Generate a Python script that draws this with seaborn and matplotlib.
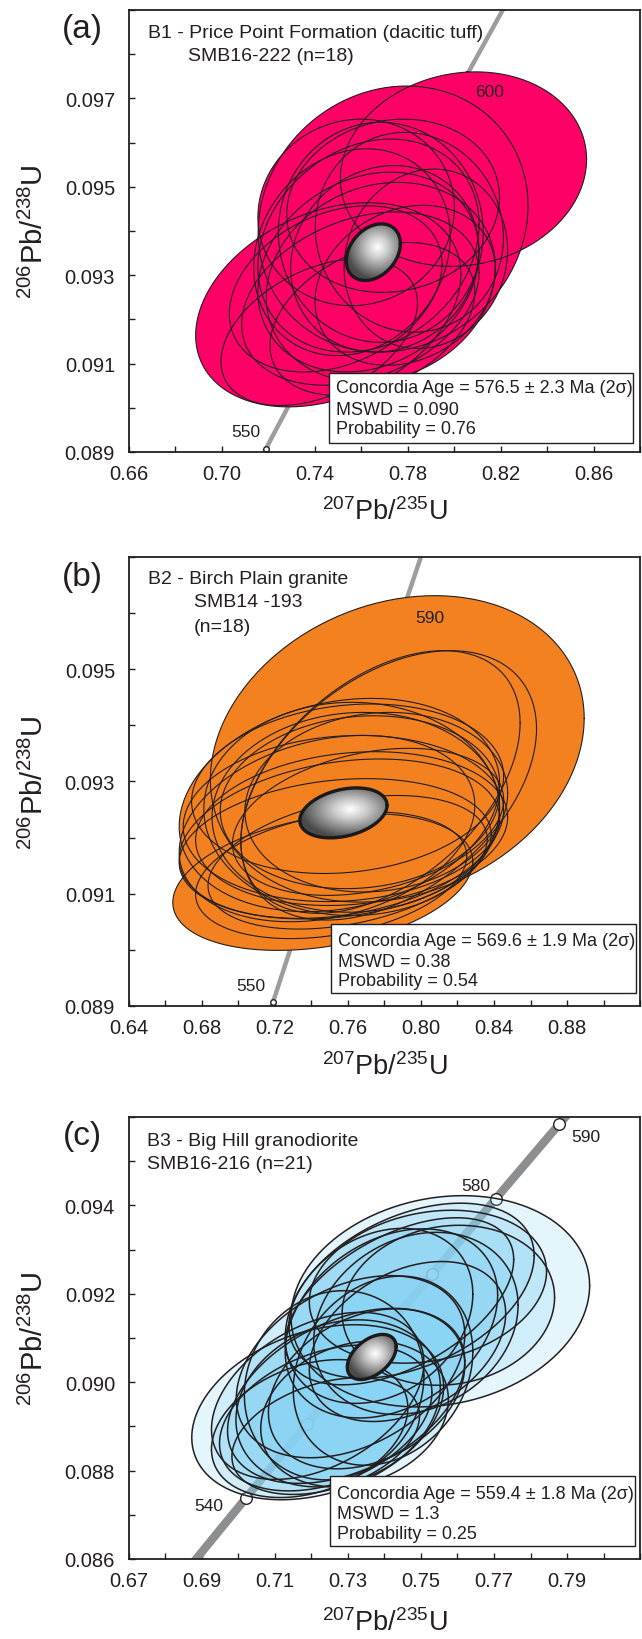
import numpy as np
import matplotlib
matplotlib.use("Agg")
import matplotlib.pyplot as plt
import seaborn as sns
from matplotlib.patches import Polygon, Rectangle
from matplotlib.colors import LinearSegmentedColormap
from matplotlib.ticker import MultipleLocator, FormatStrFormatter

# ---- data: error ellipses (centre, 2-sigma half widths, error correlation) ----
# B1 - Price Point Formation
b1_x = [0.7737, 0.8040, 0.7458, 0.7631, 0.7684, 0.7596, 0.7701, 0.7560, 0.7807,
        0.7648, 0.7737, 0.7490, 0.7878, 0.7631, 0.7419, 0.7789, 0.7578, 0.7684]
b1_y = [0.09427, 0.09540, 0.09233, 0.09307, 0.09397, 0.09247, 0.09337, 0.09352, 0.09397,
        0.09201, 0.09457, 0.09269, 0.09337, 0.09367, 0.09171, 0.09277, 0.09442, 0.09284]
b1_ex = [0.0581, 0.0530, 0.0571, 0.0476, 0.0441, 0.0511, 0.0405, 0.0423, 0.0405,
         0.0441, 0.0458, 0.0458, 0.0352, 0.0476, 0.0423, 0.0388, 0.0423, 0.0493]
b1_ey = [0.00301, 0.00220, 0.00231, 0.00226, 0.00249, 0.00196, 0.00211, 0.00234, 0.00226,
         0.00173, 0.00196, 0.00188, 0.00203, 0.00241, 0.00166, 0.00181, 0.00211, 0.00226]
b1_rho = [0.10, 0.10, 0.30, 0.20, 0.00, 0.30, 0.10, 0.15, -0.05,
          0.35, 0.10, 0.30, 0.10, 0.20, 0.40, 0.20, 0.05, 0.15]
b1_conc = [0.7652, 0.09352, 0.01163, 0.00064, 0.30]

# B2 - Birch Plain granite
b2_x = [0.7870, 0.7462, 0.7553, 0.7598, 0.7823, 0.7778, 0.7575, 0.7620, 0.7553,
        0.7643, 0.7530, 0.7665, 0.7485, 0.7710, 0.7598, 0.7620, 0.7755, 0.7508]
b2_y = [0.09358, 0.09121, 0.09258, 0.09287, 0.09293, 0.09299, 0.09234, 0.09216, 0.09198,
        0.09245, 0.09180, 0.09263, 0.09216, 0.09228, 0.09156, 0.09251, 0.09263, 0.09133]
b2_ex = [0.1024, 0.0822, 0.0878, 0.0855, 0.0810, 0.0765, 0.0878, 0.0855, 0.0878,
         0.0788, 0.0855, 0.0765, 0.0810, 0.0743, 0.0765, 0.0810, 0.0720, 0.0743]
b2_ey = [0.00273, 0.00122, 0.00190, 0.00151, 0.00240, 0.00234, 0.00148, 0.00137, 0.00142,
         0.00178, 0.00125, 0.00154, 0.00166, 0.00131, 0.00119, 0.00190, 0.00160, 0.00113]
b2_rho = [0.20, 0.30, 0.20, 0.15, 0.42, 0.45, 0.10, 0.15, 0.25,
          0.05, 0.20, 0.10, 0.25, 0.30, 0.35, 0.00, 0.10, 0.30]
b2_conc = [0.7575, 0.09244, 0.0239, 0.000445, 0.30]

# B3 - Big Hill granodiorite
b3_x = [0.7553, 0.7474, 0.7441, 0.7519, 0.7419, 0.7486, 0.7385, 0.7463, 0.7575, 0.7217, 0.7239,
        0.7273, 0.7195, 0.7295, 0.7262, 0.7318, 0.7217, 0.7351, 0.7239, 0.7307, 0.7396]
b3_y = [0.09183, 0.09207, 0.09183, 0.09216, 0.09133, 0.09133, 0.09150, 0.09092, 0.09174, 0.08932, 0.08919,
        0.08952, 0.08895, 0.08969, 0.08993, 0.08928, 0.08969, 0.08985, 0.08878, 0.09035, 0.09026]
b3_ex = [0.0409, 0.0336, 0.0313, 0.0325, 0.0291, 0.0280, 0.0257, 0.0269, 0.0291, 0.0345, 0.0291,
         0.0280, 0.0269, 0.0325, 0.0246, 0.0257, 0.0291, 0.0269, 0.0257, 0.0313, 0.0246]
b3_ey = [0.00239, 0.00198, 0.00189, 0.00173, 0.00214, 0.00206, 0.00198, 0.00181, 0.00181, 0.00198, 0.00165,
         0.00189, 0.00156, 0.00198, 0.00214, 0.00165, 0.00189, 0.00181, 0.00132, 0.00206, 0.00214]
b3_rho = [0.15, 0.40, 0.50, 0.20, 0.30, 0.20, 0.25, 0.35, 0.10, 0.29, 0.35,
          0.20, 0.30, 0.40, 0.10, 0.20, 0.40, 0.30, 0.35, 0.35, 0.20]
b3_conc = [0.7365, 0.09057, 0.0067, 0.00051, 0.45]

# concordia ages (Ma) marked on the curve, and which ones are labelled
ages_a = [550, 560, 570, 580, 590, 600]
labels_a = {550: (-14, 13), 600: (16, -12)}
ages_b = [550, 560, 570, 580, 590]
labels_b = {550: (-16, 12), 590: (22, 3)}
ages_c = [540, 550, 560, 570, 580, 590]
labels_c = {540: (-27, -5), 580: (-14, 10), 590: (19, -9)}

L238 = 1.55125e-10
L235 = 9.8485e-10

sns.set_theme(style="white")
plt.rcParams['font.family'] = ['Liberation Sans', 'DejaVu Sans']
plt.rcParams['mathtext.default'] = 'regular'


def concordia(t_ma):
    t = np.asarray(t_ma, dtype=float) * 1e6
    return np.exp(L235 * t) - 1, np.exp(L238 * t) - 1


def ellipse_xy(cx, cy, ex, ey, rho, n=240):
    t = np.linspace(0, 2 * np.pi, n)
    x = cx + ex * np.cos(t)
    y = cy + ey * (rho * np.cos(t) + np.sqrt(1 - rho ** 2) * np.sin(t))
    return x, y


gray_cmap = LinearSegmentedColormap.from_list('g', ['#ffffff', '#cbcbcb', '#8a8a8a', '#4a4a4a'])


def draw_panel(ax, p):
    xlo, xhi = p['xlim']
    ylo, yhi = p['ylim']
    # concordia curve
    tt = np.linspace(480, 660, 400)
    cx_, cy_ = concordia(tt)
    sns.lineplot(x=cx_, y=cy_, sort=False, estimator=None, color=p['line_color'],
                 linewidth=p['line_w'], ax=ax, zorder=1)
    mx, my = concordia(p['ages'])
    sns.scatterplot(x=mx, y=my, s=p['msize'], facecolor='white', edgecolor='#222222',
                    linewidth=1.0, ax=ax, zorder=2)
    for age, off in p['labels'].items():
        ax_, ay_ = concordia(age)
        ax.annotate(str(age), (float(ax_), float(ay_)), xytext=off, textcoords='offset points',
                    ha='center', va='center', fontsize=12.5, color='#231f20', zorder=9)

    xs, ys, exs, eys, rhos = p['data']
    for i in range(len(xs)):
        ex_, ey_ = ellipse_xy(xs[i], ys[i], exs[i], eys[i], rhos[i])
        ax.fill(ex_, ey_, facecolor=p['fill'], alpha=p['alpha'], edgecolor='none', zorder=3)
    for i in range(len(xs)):
        ex_, ey_ = ellipse_xy(xs[i], ys[i], exs[i], eys[i], rhos[i])
        ax.plot(ex_, ey_, color='#231f20', lw=p['edge_w'], zorder=4)

    # concordia age ellipse with radial shading
    gx, gy, gex, gey, grho = p['conc']
    px, py = ellipse_xy(gx, gy, gex, gey, grho)
    XX, YY = np.meshgrid(np.linspace(gx - gex, gx + gex, 120), np.linspace(gy - gey, gy + gey, 120))
    hx, hy = gx + 0.15 * gex, gy + 0.15 * gey
    R = np.sqrt(((XX - hx) / gex) ** 2 + ((YY - hy) / gey) ** 2)
    im = ax.imshow(R, extent=[gx - gex, gx + gex, gy - gey, gy + gey], origin='lower',
                   cmap=gray_cmap, vmin=0, vmax=1.15, aspect='auto', zorder=5, interpolation='bilinear')
    clip = Polygon(np.column_stack([px, py]), closed=True, transform=ax.transData)
    im.set_clip_path(clip)
    ax.plot(px, py, color='#1a1a1a', lw=2.4, zorder=6)

    ax.set_xlim(xlo, xhi)
    ax.set_ylim(ylo, yhi)
    ax.xaxis.set_major_locator(MultipleLocator(p['xmaj']))
    ax.xaxis.set_minor_locator(MultipleLocator(p['xmaj'] / 2))
    ax.yaxis.set_major_locator(MultipleLocator(0.002))
    ax.yaxis.set_minor_locator(MultipleLocator(0.001))
    ax.set_xticks(p['xticks'])
    ax.set_yticks(p['yticks'])
    ax.xaxis.set_major_formatter(FormatStrFormatter('%.2f'))
    ax.yaxis.set_major_formatter(FormatStrFormatter('%.3f'))
    ax.tick_params(axis='both', which='both', direction='in', length=4, width=1,
                   color='#231f20', bottom=True, left=True, top=False, right=False)
    ax.tick_params(axis='x', which='major', labelsize=14.5, pad=9, labelcolor='#231f20')
    ax.tick_params(axis='y', which='major', labelsize=14.5, pad=10, labelcolor='#231f20')
    for s in ax.spines.values():
        s.set_color('#231f20')
        s.set_linewidth(1.3)
    ax.set_xlabel('')
    ax.set_ylabel('')
    ax.text(0.5, p['xlab_y'], r'$^{207}$Pb/$^{235}$U', transform=ax.transAxes,
            ha='center', va='center', fontsize=19.5, color='#231f20')
    ax.text(-0.186, 0.5, r'$^{206}$Pb/$^{238}$U', transform=ax.transAxes, rotation=90,
            ha='center', va='center', fontsize=21, color='#231f20')
    ax.text(-0.092, 0.957, p['tag'], transform=ax.transAxes, ha='center', va='center',
            fontsize=24, color='#231f20')
    for (tx, ty, s) in p['title']:
        ax.text(tx, ty, s, transform=ax.transAxes, ha='left', va='center',
                fontsize=14, color='#231f20', zorder=9)
    bx0, by0, bx1, by1 = p['box']
    ax.add_patch(Rectangle((bx0, by0), bx1 - bx0, by1 - by0, transform=ax.transAxes,
                           facecolor='white', edgecolor='#231f20', lw=1.0, zorder=10))
    for ty, s in zip(p['box_y'], p['box_text']):
        ax.text(p['box_tx'], ty, s, transform=ax.transAxes, ha='left', va='center',
                fontsize=13, color='#231f20', zorder=11)


panels = [
    dict(rect=[0.2009, 0.7238, 0.796, 0.2695], xlim=(0.66, 0.88), ylim=(0.089, 0.099),
         xmaj=0.04, xticks=[0.66, 0.70, 0.74, 0.78, 0.82, 0.86],
         yticks=[0.089, 0.091, 0.093, 0.095, 0.097],
         data=(b1_x, b1_y, b1_ex, b1_ey, b1_rho), conc=b1_conc,
         fill='#ff0066', alpha=1.0, edge_w=0.8, line_color='#9d9d9d', line_w=3.2, msize=16,
         ages=ages_a, labels=labels_a, tag='(a)', xlab_y=-0.134,
         title=[(0.037, 0.950, 'B1 - Price Point Formation (dacitic tuff)'),
                (0.115, 0.898, 'SMB16-222 (n=18)')],
         box=(0.391, 0.020, 0.986, 0.179), box_tx=0.405, box_y=[0.145, 0.097, 0.052],
         box_text=['Concordia Age = 576.5 \u00b1 2.3 Ma (2\u03c3)', 'MSWD = 0.090', 'Probability = 0.76']),
    dict(rect=[0.2009, 0.3860, 0.796, 0.2738], xlim=(0.64, 0.92), ylim=(0.089, 0.097),
         xmaj=0.04, xticks=[0.64, 0.68, 0.72, 0.76, 0.80, 0.84, 0.88],
         yticks=[0.089, 0.091, 0.093, 0.095],
         data=(b2_x, b2_y, b2_ex, b2_ey, b2_rho), conc=b2_conc,
         fill='#f48120', alpha=1.0, edge_w=0.8, line_color='#9d9d9d', line_w=3.2, msize=16,
         ages=ages_b, labels=labels_b, tag='(b)', xlab_y=-0.134,
         title=[(0.037, 0.951, 'B2 - Birch Plain granite'),
                (0.127, 0.900, 'SMB14 -193'),
                (0.127, 0.846, '(n=18)')],
         box=(0.395, 0.029, 0.992, 0.183), box_tx=0.409, box_y=[0.145, 0.100, 0.056],
         box_text=['Concordia Age = 569.6 \u00b1 1.9 Ma (2\u03c3)', 'MSWD = 0.38', 'Probability = 0.54']),
    dict(rect=[0.2009, 0.0488, 0.796, 0.2695], xlim=(0.67, 0.81), ylim=(0.086, 0.096),
         xmaj=0.02, xticks=[0.67, 0.69, 0.71, 0.73, 0.75, 0.77, 0.79],
         yticks=[0.086, 0.088, 0.090, 0.092, 0.094],
         data=(b3_x, b3_y, b3_ex, b3_ey, b3_rho), conc=b3_conc,
         fill='#88d4f4', alpha=0.22, edge_w=1.1, line_color='#8d8e90', line_w=6, msize=70,
         ages=ages_c, labels=labels_c, tag='(c)', xlab_y=-0.143,
         title=[(0.035, 0.946, 'B3 - Big Hill granodiorite'),
                (0.035, 0.894, 'SMB16-216 (n=21)')],
         box=(0.393, 0.029, 0.990, 0.188), box_tx=0.407, box_y=[0.149, 0.104, 0.057],
         box_text=['Concordia Age = 559.4 \u00b1 1.8 Ma (2\u03c3)', 'MSWD = 1.3', 'Probability = 0.25']),
]

fig = plt.figure(figsize=(6.42, 16.4), dpi=100)
for p in panels:
    ax = fig.add_axes(p['rect'])
    ax.set_facecolor('white')
    draw_panel(ax, p)

fig.savefig('out.png', dpi=100, facecolor='white')
